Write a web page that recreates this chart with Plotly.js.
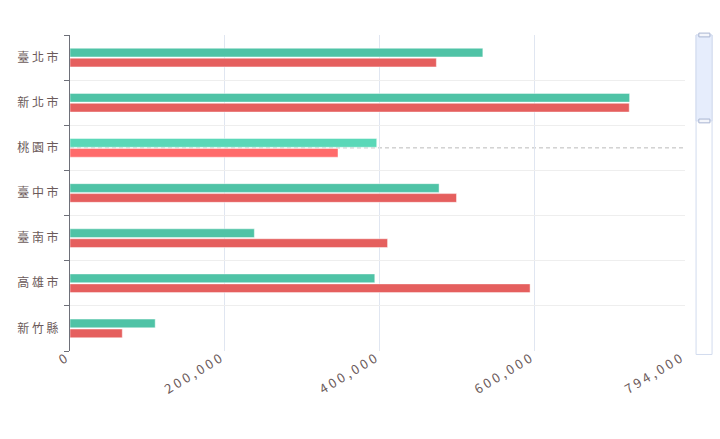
<!DOCTYPE html>
<html>
<head>
<meta charset="utf-8">
<script src="https://cdn.plot.ly/plotly-3.0.1.min.js"></script>
<style>
  html, body { margin: 0; padding: 0; background: #fff; }
  #chart { width: 720px; height: 439px; }
</style>
</head>
<body>
<div id="chart"></div>
<script>
// cities, top to bottom
var cities = ['臺北市', '新北市', '桃園市', '臺中市', '臺南市', '高雄市', '新竹縣'];
// two series
var seriesA = [533000, 722500, 396000, 476500, 238000, 393500, 110000];
var seriesB = [473000, 722000, 346000, 499000, 410000, 594000, 67500];
// x ticks
var xTicks = [0, 200000, 400000, 600000, 794000];
var xMax = 794000;
var hovered = '桃園市';

// spread characters out like the original labels
function spaced(s) { return s.split('').join(' '); }
function fmt(v) { return v.toLocaleString('en-US'); }

var greenCols = cities.map(function (c) { return c === hovered ? '#5ad8b8' : '#4fc3a6'; });
var redCols = cities.map(function (c) { return c === hovered ? '#ff6b6b' : '#e55f5e'; });

var traceA = {
    type: 'bar',
    orientation: 'h',
    y: cities,
    x: seriesA,
    marker: { color: greenCols, line: { color: 'rgba(255,255,255,0.45)', width: 1 } },
    hoverinfo: 'none'
};
var traceB = {
    type: 'bar',
    orientation: 'h',
    y: cities,
    x: seriesB,
    marker: { color: redCols, line: { color: 'rgba(255,255,255,0.45)', width: 1 } },
    hoverinfo: 'none'
};

var txt = '#6b5a5a';
var fontFam = '"Noto Sans CJK TC", "Noto Sans", sans-serif';

// slider on the right, in paper units
var sx0 = 1.018, sx1 = 1.044, hx0 = 1.0225, hx1 = 1.0405, hSel = 0.728;

var layout = {
    width: 720,
    height: 439,
    showlegend: false,
    paper_bgcolor: '#fff',
    plot_bgcolor: '#fff',
    margin: { l: 70, r: 35, t: 35, b: 88 },
    barmode: 'group',
    bargap: 0.56,
    bargroupgap: 0.12,
    font: { family: fontFam, color: txt, size: 12 },
    xaxis: {
        range: [0, xMax],
        tickvals: xTicks,
        ticktext: xTicks.map(function (v) { return spaced(fmt(v)); }),
        tickangle: -31,
        showgrid: true,
        gridcolor: '#e0e6f1',
        zeroline: false,
        showline: false,
        ticks: '',
        ticklabelstandoff: -3,
        ticklabelshift: -5,
        tickfont: { size: 13, color: txt }
    },
    yaxis: {
        type: 'category',
        autorange: 'reversed',
        tickmode: 'array',
        tickvals: cities,
        ticktext: cities.map(spaced),
        tickson: 'boundaries',
        ticks: 'outside',
        ticklen: 5,
        tickcolor: '#6e7079',
        showline: true,
        linecolor: '#6e7079',
        linewidth: 1,
        showgrid: true,
        gridcolor: '#eeeeee',
        zeroline: false,
        ticklabelstandoff: 8,
        tickfont: { size: 12, color: txt }
    },
    shapes: [
        // axis pointer on the hovered category
        { type: 'line', xref: 'paper', yref: 'y', x0: 0, x1: 1, y0: hovered, y1: hovered,
          line: { color: '#bbbbbb', width: 1, dash: '4px,3px' }, layer: 'below' },
        // slider track
        { type: 'rect', xref: 'paper', yref: 'paper', x0: sx0, x1: sx1, y0: -0.011, y1: 1.0,
          fillcolor: 'rgba(0,0,0,0)', line: { color: '#d2dbee', width: 1 } },
        // selected window
        { type: 'rect', xref: 'paper', yref: 'paper', x0: sx0, x1: sx1, y0: hSel, y1: 1.0,
          fillcolor: '#e6edfc', line: { color: '#d2dbee', width: 1 } },
        // handles
        { type: 'rect', xref: 'paper', yref: 'paper', x0: hx0, x1: hx1, y0: 0.994, y1: 1.006,
          fillcolor: '#f4f6fb', line: { color: '#a9b5d2', width: 1 } },
        { type: 'rect', xref: 'paper', yref: 'paper', x0: hx0, x1: hx1, y0: hSel - 0.006, y1: hSel + 0.006,
          fillcolor: '#f4f6fb', line: { color: '#a9b5d2', width: 1 } }
    ]
};

Plotly.newPlot('chart', [traceA, traceB], layout, { staticPlot: true, displayModeBar: false });
</script>
</body>
</html>
